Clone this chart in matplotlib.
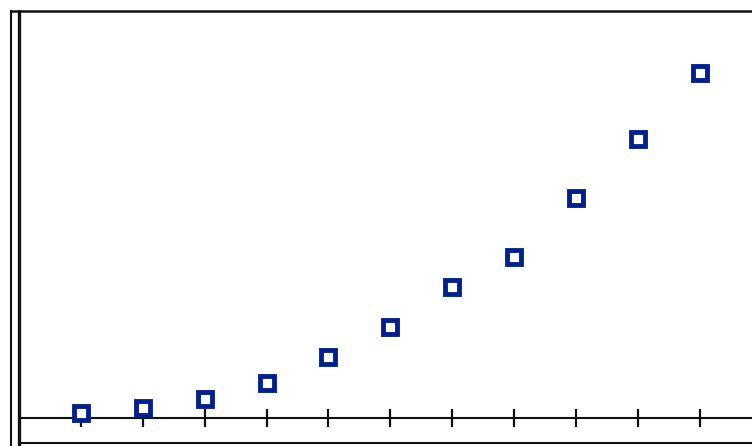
import matplotlib
matplotlib.use("Agg")
import matplotlib.pyplot as plt
from matplotlib.lines import Line2D

# Data
x_values = [1, 2, 3, 4, 5, 6, 7, 8, 9, 10, 11]
y_values = [1.5, 2.8, 5.4, 10.2, 17.6, 26.5, 37.9, 46.6, 63.7, 80.8, 100.0]

W, H = 752, 446
fig = plt.figure(figsize=(W / 100, H / 100), dpi=100)
ax = fig.add_axes([0, 0, 1, 1])

ax.plot(x_values, y_values, linestyle="none", marker="s", markersize=9.4,
        markeredgewidth=3.5, markeredgecolor="#00208f",
        markerfacecolor="white", zorder=5, clip_on=False)

# scale: x pixel = 81 + (x-1)*61.85 ; y pixel (from top) = 418 - y*3.45
ax.set_xlim(1 - 81 / 61.85, 1 + (W - 81) / 61.85)
ax.set_ylim(-(H - 418) / 3.45, 418 / 3.45)

for s in ["top", "left", "right"]:
    ax.spines[s].set_visible(False)
ax.spines["bottom"].set_position(("data", 0))
ax.spines["bottom"].set_linewidth(1.5)
ax.spines["bottom"].set_color("#111111")
ax.spines["bottom"].set_bounds(1 - (81 - 20) / 61.85, 1 + (W - 81) / 61.85)
ax.set_xticks(x_values)
ax.set_xticklabels([])
ax.tick_params(axis="x", direction="inout", length=13.5, width=1.6,
               color="#111111")
ax.set_yticks([])
ax.patch.set_alpha(0)

def fx(p):
    return p / W

def fy(p):
    return 1 - p / H

lines = [
    ((fx(10), fx(W)), (fy(11), fy(11)), 1.8),        # top
    ((fx(11), fx(11)), (fy(10), fy(H)), 1.5),        # left outer
    ((fx(19), fx(19)), (fy(10), fy(H)), 2.4),        # left inner
    ((fx(19), fx(W)), (fy(443), fy(443)), 1.5),      # bottom
]
for xs, ys, lw in lines:
    fig.add_artist(Line2D(xs, ys, transform=fig.transFigure, color="#111111",
                          linewidth=lw, solid_capstyle="butt"))

fig.savefig("out.png", dpi=100)
